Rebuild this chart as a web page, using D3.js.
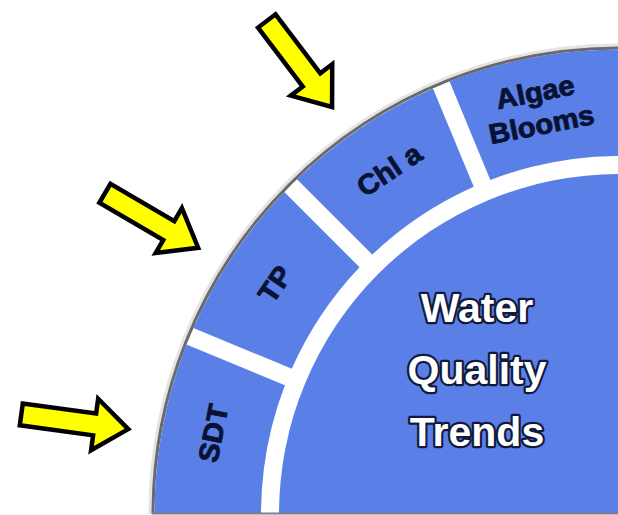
<!DOCTYPE html>
<html>
<head>
<meta charset="utf-8">
<script src="https://cdn.jsdelivr.net/npm/d3@7"></script>
<style>
  html, body { margin: 0; padding: 0; background: #ffffff; }
  svg { display: block; }
</style>
</head>
<body>
<svg id="chart" width="618" height="515"></svg>
<script>
// ---- data ----
const segments = ["SDT", "TP", "Chl a", "Algae Blooms"];
const segmentLines = [["SDT"], ["TP"], ["Chl a"], ["Algae", "Blooms"]];
const centerLines = ["Water", "Quality", "Trends"];
const arrowTargets = ["SDT", "TP", "Chl a"];

// ---- layout ----
const W = 618, H = 515;
const cx = 619, cy = 514;
const rOuter = 466, rRingIn = 358, rDisc = 340;
const blue = "#5a80e8";
const textDark = "#0a1234";

const svg = d3.select("#chart");
const defs = svg.append("defs");
defs.append("clipPath").attr("id", "clip")
  .append("rect").attr("x", 0).attr("y", 0).attr("width", W).attr("height", cy);

const g = svg.append("g").attr("clip-path", "url(#clip)");
const root = g.append("g").attr("transform", `translate(${cx},${cy})`);

// angle scale: quarter circle from left (-90deg) to top (0deg)
const angle = d3.scaleBand().domain(segments).range([-Math.PI / 2, 0]).paddingInner(0).paddingOuter(0);

// soft halo and grey rim
root.append("circle").attr("r", rOuter + 2.5).attr("fill", "none")
  .attr("stroke", "#e4e4e4").attr("stroke-width", 4);
root.append("circle").attr("r", rOuter).attr("fill", "#ffffff")
  .attr("stroke", "#6a6a6a").attr("stroke-width", 3);

// ring segments
const arc = d3.arc()
  .innerRadius(rRingIn)
  .outerRadius(rOuter - 1.5)
  .padRadius(100)
  .padAngle(0.18);

root.selectAll("path.seg").data(segments).join("path")
  .attr("class", "seg")
  .attr("fill", blue)
  .attr("d", (d, i) => arc({
    startAngle: i === 0 ? -Math.PI : angle(d),
    endAngle: i === segments.length - 1 ? Math.PI / 2 : angle(d) + angle.bandwidth()
  }));

// inner disc
root.append("circle").attr("r", rDisc).attr("fill", blue);

// segment labels
const rLabel = 414;
const lineH = 33;
segments.forEach((d, i) => {
  const a = angle(d) + angle.bandwidth() / 2;
  const x = rLabel * Math.sin(a), y = -rLabel * Math.cos(a);
  const lines = segmentLines[i];
  const t = root.append("text")
    .attr("transform", `translate(${x},${y}) rotate(${a * 180 / Math.PI}) scale(1.04,1)`)
    .attr("text-anchor", "middle")
    .attr("font-family", "'Liberation Sans', Arial, sans-serif")
    .attr("font-weight", "bold")
    .attr("font-size", 28)
    .attr("fill", textDark)
    .attr("stroke", textDark)
    .attr("stroke-width", 0.9)
    .attr("stroke-linejoin", "round");
  lines.forEach((ln, k) => {
    t.append("tspan").attr("x", 0)
      .attr("y", (k - (lines.length - 1) / 2) * lineH + 10)
      .text(ln);
  });
});

// center title
const title = g.append("text")
  .attr("transform", "translate(477,384)")
  .attr("text-anchor", "middle")
  .attr("font-family", "'Liberation Sans', Arial, sans-serif")
  .attr("font-weight", "bold")
  .attr("font-size", 41)
  .attr("fill", "#ffffff")
  .attr("stroke", "#101a3c")
  .attr("stroke-width", 4.5)
  .attr("paint-order", "stroke")
  .attr("stroke-linejoin", "round");
centerLines.forEach((ln, k) => {
  title.append("tspan").attr("x", 0).attr("y", (k - 1) * 62).text(ln);
});

// bottom grey edge
svg.append("line").attr("x1", cx - rOuter - 1).attr("x2", W)
  .attr("y1", cy - 0.5).attr("y2", cy - 0.5)
  .attr("stroke", "#7a7f8c").attr("stroke-width", 2);

// arrows pointing at segments
const arrowShape = [[0, 0], [-34, -26], [-34, -11], [-108, -11], [-108, 11], [-34, 11], [-34, 26]];
const rTip = 498;
arrowTargets.forEach(d => {
  const a = angle(d) + angle.bandwidth() / 2 - 0.025;
  const x = cx + rTip * Math.sin(a), y = cy - rTip * Math.cos(a);
  // direction toward the centre, in screen degrees
  const dirDeg = (a + Math.PI / 2) * 180 / Math.PI - 2;
  svg.append("path")
    .attr("d", d3.line()(arrowShape) + "Z")
    .attr("transform", `translate(${x},${y}) rotate(${dirDeg})`)
    .attr("fill", "#ffff00")
    .attr("stroke", "#000000")
    .attr("stroke-width", 4.5)
    .attr("stroke-linejoin", "miter");
});
</script>
</body>
</html>
